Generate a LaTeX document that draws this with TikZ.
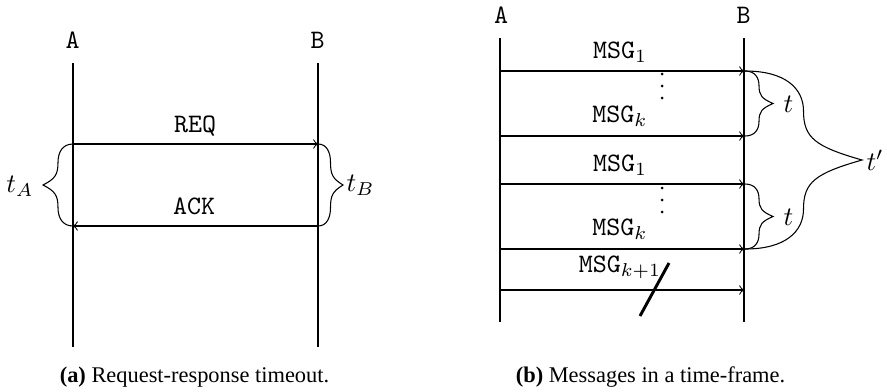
\documentclass[tikz,border=0pt]{standalone}
\usepackage{fontspec}
\newfontfamily\capfont{Liberation Serif}
\newcommand\vbrace[4]{%
  \draw[brc] ({#1},{#2})
    .. controls ({#1+0.35*(#4)},{#2}) and ({#1+0.5*(#4)},{#2+0.1*(#3-#2)}) .. ({#1+0.5*(#4)},{#2+0.225*(#3-#2)})
    .. controls ({#1+0.5*(#4)},{#2+0.375*(#3-#2)}) and ({#1+0.6*(#4)},{#2+0.425*(#3-#2)}) .. ({#1+(#4)},{0.5*(#2+#3)})
    .. controls ({#1+0.6*(#4)},{#3-0.425*(#3-#2)}) and ({#1+0.5*(#4)},{#3-0.375*(#3-#2)}) .. ({#1+0.5*(#4)},{#3-0.225*(#3-#2)})
    .. controls ({#1+0.5*(#4)},{#3-0.1*(#3-#2)}) and ({#1+0.35*(#4)},{#3}) .. ({#1},{#3});}
\begin{document}
\begin{tikzpicture}[x=0.375pt,y=-0.375pt,
  lbl/.style={font=\ttfamily, inner sep=0pt},
  msg/.style={font=\ttfamily, anchor=base, inner sep=0pt},
  life/.style={line width=0.4pt},
  sig/.style={->, line width=0.4pt},
  brc/.style={line width=0.4pt},
  tlab/.style={inner sep=0pt},
  vdot/.style={fill=black},
  captxt/.style={font=\capfont\fontsize{8.4}{10}\selectfont, anchor=base, inner sep=0pt}]
\useasboundingbox (0,0) rectangle (887,391);
% ---------- (a) ----------
\node[lbl] (A1) at (72.5,40) {A};
\node[lbl] (B1) at (317.5,40) {B};
\coordinate (A1t) at (73,63);  \coordinate (A1b) at (73,347);
\coordinate (B1t) at (318,63); \coordinate (B1b) at (318,347);
\draw[life] (A1t) -- (A1b);
\draw[life] (B1t) -- (B1b);
\coordinate (a1) at (73,144);  \coordinate (b1) at (318,144);
\coordinate (a2) at (73,226);  \coordinate (b2) at (318,226);
\draw[sig] (a1) -- (b1);
\draw[sig] (b2) -- (a2);
\node[msg] (req) at (195,132) {REQ};
\node[msg] (ack) at (194,214) {ACK};
\vbrace{73}{144}{226}{-30}
\vbrace{318}{144}{226}{25}
\node[tlab, anchor=east] (tA) at (34,186) {$t_A$};
\node[tlab, anchor=west] (tB) at (346,185) {$t_B$};
\node[captxt] (capa) at (194.5,382) {\textbf{(a)} Request-response timeout.};
% ---------- (b) ----------
\node[lbl] (A2) at (501,15) {A};
\node[lbl] (B2) at (743.5,15) {B};
\coordinate (A2t) at (500,38);  \coordinate (A2b) at (500,322);
\coordinate (B2t) at (744,38);  \coordinate (B2b) at (744,322);
\draw[life] (A2t) -- (A2b);
\draw[life] (B2t) -- (B2b);
\foreach \i/\y in {1/71,2/136,3/184,4/249,5/290}{
  \coordinate (s\i) at (500,\y);
  \coordinate (r\i) at (744,\y);
  \draw[sig] (s\i) -- (r\i);
}
\node[msg] (m1) at (620,58) {MSG$_1$};
\node[msg] (m2) at (620,122) {MSG$_k$};
\node[msg] (m3) at (620,171) {MSG$_1$};
\node[msg] (m4) at (620,235) {MSG$_k$};
\node[msg] (m5) at (620,272) {MSG$_{k+1}$};
\foreach \y in {74,86,98,188,200,212}{
  \fill[vdot] (662,\y) circle[radius=1.5];
}
\draw[line width=1.1pt] (640,316) -- (669,263);
\vbrace{745}{71}{136}{28}
\vbrace{745}{184}{249}{28}
\vbrace{745}{71}{249}{117}
\node[tlab, anchor=west] (t1) at (783,104) {$t$};
\node[tlab, anchor=west] (t2) at (783,217) {$t$};
\node[tlab, anchor=west] (tp) at (866,160) {$t'$};
\node[captxt] (capb) at (650.5,382) {\textbf{(b)} Messages in a time-frame.};
\end{tikzpicture}
\end{document}
